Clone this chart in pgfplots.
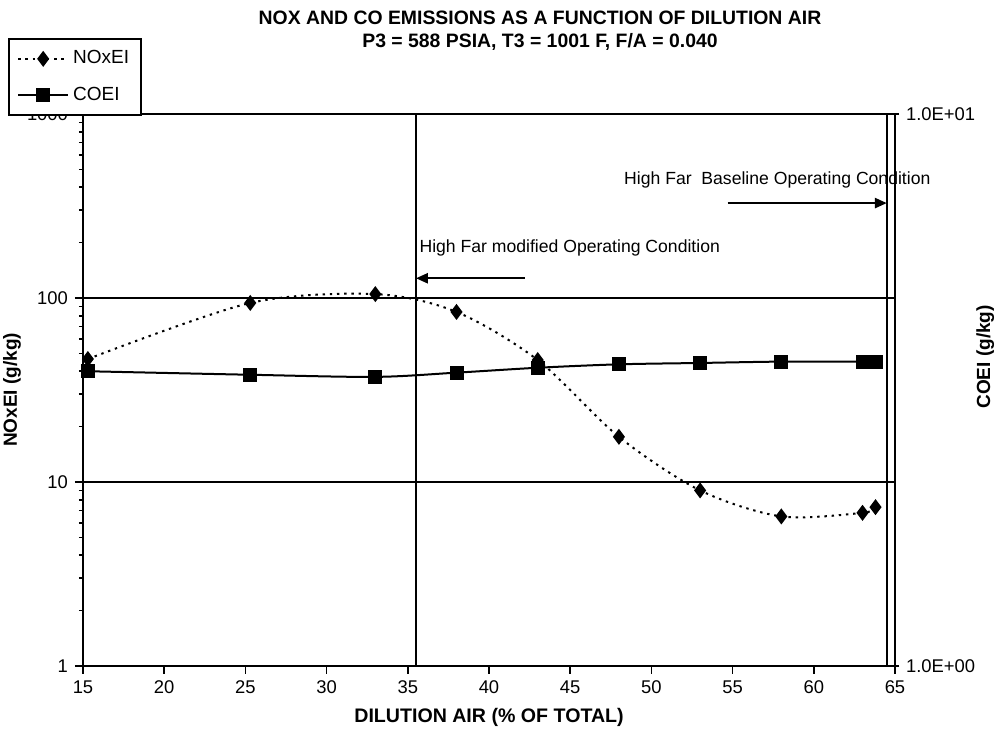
\documentclass[border=0pt]{standalone}
\usepackage{fontspec}
\setmainfont{Liberation Sans}
\usepackage{pgfplots}
\pgfplotsset{compat=1.18}
\usetikzlibrary{arrows.meta}
\pgfplotstableread{
x y
15.3 46.6
25.3 94
33 105
38 84
43 46
48 17.6
53 9.0
58 6.5
63 6.8
63.8 7.3
}\noxdata
\pgfplotstableread{
x y
15.3 3.42
25.3 3.37
33 3.34
38 3.40
43 3.47
48 3.52
53 3.54
58 3.56
63 3.56
63.8 3.56
}\codata
\begin{document}
\begin{tikzpicture}[x=1pt,y=1pt]
\useasboundingbox (0,0) rectangle (498.5,366.5);
\fill[white] (0,0) rectangle (498.5,366.5);
\pgfplotsset{
 base/.style={at={(41.5pt,33.5pt)}, anchor=south west, scale only axis,
   width=406pt, height=276pt, xmin=15, xmax=65,
   /pgf/number format/assume math mode=true,
   tick label style={font=\fontsize{9.2}{10}\selectfont},
   axis line style={line width=0.9pt},
   major tick length=4pt, minor tick length=2pt,
   every tick/.style={line width=0.8pt, black}},
 noxstyle/.style={black, line width=1pt, dash pattern=on 1.2pt off 2.4pt, smooth,
   mark=diamond*, mark size=3.2pt, mark options={solid}},
 costyle/.style={black, line width=1pt, smooth, mark=square*, mark size=3pt, mark options={solid}},
}
\begin{axis}[base, ymode=log, ymin=1, ymax=1000,
  tick pos=left, tick align=outside,
  xtick={15,20,...,65},
  ytick={1,10,100,1000}, yticklabels={1,10,100,1000},
  ymajorgrids, major grid style={line width=0.8pt, black},
  xlabel={\bfseries DILUTION AIR (\% OF TOTAL)},
  xlabel style={at={(axis description cs:0.5,-0.0924)}, anchor=center, font=\fontsize{9.8}{11}\selectfont},
  ylabel={\bfseries NOxEI (g/kg)},
  ylabel style={at={(axis description cs:-0.0874,0.5)}, anchor=center, font=\fontsize{9.5}{11}\selectfont},
  clip=false]
\addplot[black, line width=0.9pt, forget plot] coordinates {(35.5,1) (35.5,1000)};
\addplot[black, line width=0.9pt, forget plot] coordinates {(64.5,1) (64.5,1000)};
\addplot[noxstyle] table[x=x,y=y] {\noxdata};
\draw[-{Triangle[length=6pt,width=5pt]}, line width=1.2pt] (axis cs:42.2,128) -- (axis cs:35.5,128);
\draw[-{Triangle[length=6pt,width=5pt]}, line width=1.2pt] (axis cs:54.7,328) -- (axis cs:64.5,328);
\node[anchor=west, font=\fontsize{8.8}{10}\selectfont, inner sep=0pt] at (axis cs:35.7,187) {High Far modified Operating Condition};
\node[anchor=west, font=\fontsize{8.8}{10}\selectfont, inner sep=0pt] at (axis cs:48.3,438) {High Far\ \ Baseline Operating Condition};
\end{axis}
\begin{axis}[base, ymode=log, ymin=1, ymax=10,
  axis x line=none, axis y line*=right, tick align=center,
  ytick={1,10}, yticklabels={1.0E+00,1.0E+01}, yminorticks=false,
  ylabel={\bfseries COEI (g/kg)},
  ylabel style={at={(axis description cs:1.111,0.56)}, anchor=center, font=\fontsize{9.5}{11}\selectfont},
  legend style={at={(axis description cs:-0.092,1.138)}, anchor=north west,
    draw=black, line width=0.9pt, fill=white, font=\fontsize{9.5}{11}\selectfont,
    row sep=6pt, inner ysep=4pt, inner xsep=4pt},
  legend cell align=left,
  legend image code/.code={\draw[mark repeat=2,mark phase=2] plot coordinates {(0pt,0pt) (12.5pt,0pt) (25pt,0pt)};},
  clip=false]
\addlegendimage{noxstyle}
\addlegendentry{NOxEI}
\addplot[costyle] table[x=x,y=y] {\codata};
\addlegendentry{COEI}
\end{axis}
\node[font=\bfseries\fontsize{9.7}{11}\selectfont] at (270,357.5) {NOX AND CO EMISSIONS AS A FUNCTION OF DILUTION AIR};
\node[font=\bfseries\fontsize{9.7}{11}\selectfont] at (270,345.5) {P3 = 588 PSIA, T3 = 1001 F, F/A = 0.040};
\end{tikzpicture}
\end{document}
